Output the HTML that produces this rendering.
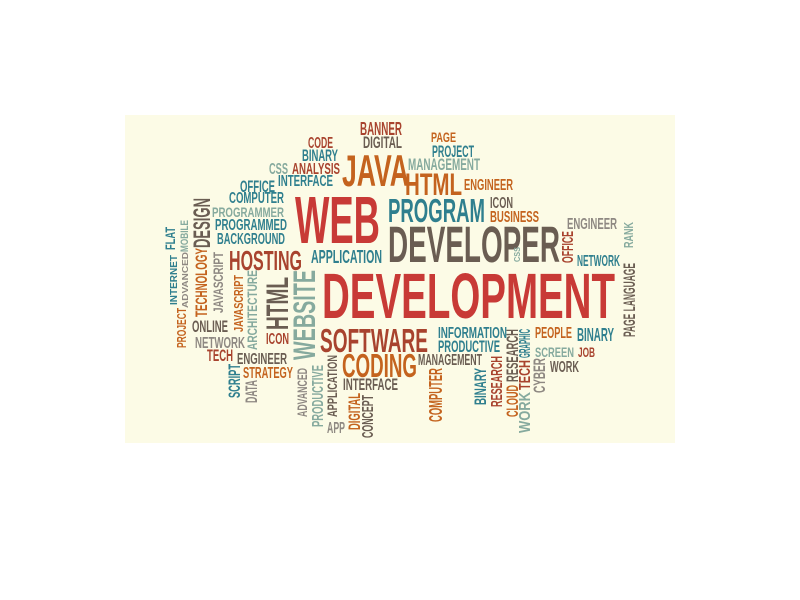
<!DOCTYPE html>
<html><head><meta charset="utf-8"><style>
html,body{margin:0;padding:0;background:#fff;width:800px;height:600px;overflow:hidden}
svg{display:block}
text{font-family:"Liberation Sans Narrow","Liberation Sans",sans-serif;font-weight:bold}
</style></head><body>
<svg id="cloud" width="800" height="600" xmlns="http://www.w3.org/2000/svg">
<rect x="125" y="115" width="550" height="328" fill="#fcfbe6"/>
</svg>
<script>
const C={R:'#c83a36',RB:'#a8432e',O:'#c4631e',T:'#2f7f8e',G:'#6a5d52',LT:'#86aa9e',GR:'#8e8882'};
// word, x0, y0, x1, y1, color, vertical
const words=[
['BANNER',360,122,402,135,'RB',0],['DIGITAL',363,136,402,148,'G',0],
['CODE',308,137,333,148,'RB',0],['BINARY',302,149,338,161,'T',0],
['CSS',269,163,288,174,'LT',0],['ANALYSIS',292,163,340,174,'RB',0],
['INTERFACE',278,175,333,186,'T',0],['JAVA',342,154,409,186,'O',0],
['OFFICE',240,180,275,192,'T',0],['COMPUTER',229,192,284,203,'T',0],
['PROGRAMMER',212,207,284,217,'LT',0],['PROGRAMMED',215,219,287,230,'T',0],
['BACKGROUND',217,233,285,244,'T',0],['WEB',295,195,380,243,'R',0],
['HOSTING',229,250,302,270,'RB',0],['APPLICATION',311,250,382,263,'T',0],
['PROGRAM',388,198,485,222,'T',0],['DEVELOPER',388,225,560,262,'G',0],
['PAGE',431,132,456,142,'O',0],['PROJECT',432,145,474,157,'T',0],
['MANAGEMENT',408,158,480,170,'LT',0],['HTML',405,172,462,195,'O',0],
['ENGINEER',464,179,513,190,'O',0],['ICON',490,197,513,208,'G',0],
['BUSINESS',490,211,539,222,'O',0],['ENGINEER',567,218,617,229,'GR',0],
['NETWORK',577,255,620,266,'T',0],['DEVELOPMENT',322,272,615,318,'R',0],
['ONLINE',192,320,228,332,'G',0],['NETWORK',195,337,245,348,'GR',0],
['TECH',207,349,233,361,'RB',0],['ENGINEER',237,353,287,364,'G',0],
['STRATEGY',243,367,293,378,'O',0],['ICON',266,333,289,344,'RB',0],
['SOFTWARE',320,328,428,352,'RB',0],['CODING',342,353,417,377,'O',0],
['INTERFACE',343,378,398,390,'G',0],['APP',327,422,345,433,'GR',0],
['MANAGEMENT',418,354,482,365,'G',0],['INFORMATION',438,327,507,338,'T',0],
['PRODUCTIVE',438,340,500,352,'T',0],['PEOPLE',535,327,572,338,'O',0],
['BINARY',577,328,614,341,'T',0],['SCREEN',535,347,574,357,'LT',0],
['JOB',578,347,595,357,'RB',0],['WORK',550,361,579,372,'G',0],
// vertical
['RANK',624,222,633,248,'LT',1],['OFFICE',562,231,573,263,'RB',1],
['CSS',514,247,520,262,'LT',1],['PAGE LANGUAGE',623,263,635,337,'G',1],
['DESIGN',193,198,210,248,'G',1],['MOBILE',180,220,188,252,'LT',1],
['FLAT',165,227,175,250,'T',1],['INTERNET',170,255,177,305,'T',1],
['ADVANCED',182,252,188,308,'GR',1],['TECHNOLOGY',195,248,207,317,'O',1],
['JAVASCRIPT',213,252,223,313,'GR',1],['JAVASCRIPT',234,275,243,332,'O',1],
['ARCHITECTURE',247,270,257,350,'LT',1],['HTML',265,277,288,330,'G',1],
['WEBSITE',292,270,315,360,'LT',1],['PROJECT',177,308,186,348,'O',1],
['SCRIPT',228,364,240,398,'T',1],['DATA',245,380,257,403,'GR',1],
['ADVANCED',297,368,307,417,'GR',1],['PRODUCTIVE',312,365,323,427,'LT',1],
['APPLICATION',327,355,337,417,'G',1],['DIGITAL',348,393,360,430,'O',1],
['CONCEPT',362,395,373,438,'G',1],['COMPUTER',429,368,442,422,'O',1],
['BINARY',474,368,486,405,'T',1],['RESEARCH',491,356,502,407,'RB',1],
['RESEARCH',506,329,518,382,'G',1],['CLOUD',506,385,518,417,'O',1],
['GRAPHIC',519,329,530,358,'T',1],['TECH',519,360,530,390,'RB',1],
['WORK',519,392,530,433,'LT',1],['CYBER',533,358,545,393,'GR',1]
];
const svg=document.getElementById('cloud');
const NS='http://www.w3.org/2000/svg';
words.forEach(w=>{
  const [s,x0,y0,x1,y1,c,v]=w;
  const t=document.createElementNS(NS,'text');
  
  
  t.textContent=s;
  t.setAttribute('fill',C[c]);
  t.setAttribute('lengthAdjust','spacingAndGlyphs');
  if(!v){
    t.setAttribute('x',x0);t.setAttribute('y',y1);
    t.setAttribute('font-size',((y1-y0)/0.72).toFixed(1));
    t.setAttribute('textLength',x1-x0);
  } else {
    t.setAttribute('x',0);t.setAttribute('y',0);
    t.setAttribute('font-size',((x1-x0)/0.72).toFixed(1));
    t.setAttribute('textLength',y1-y0);
    t.setAttribute('transform','translate('+x1+','+y1+') rotate(-90)');
  }
  svg.appendChild(t);
});
</script>
</body></html>
